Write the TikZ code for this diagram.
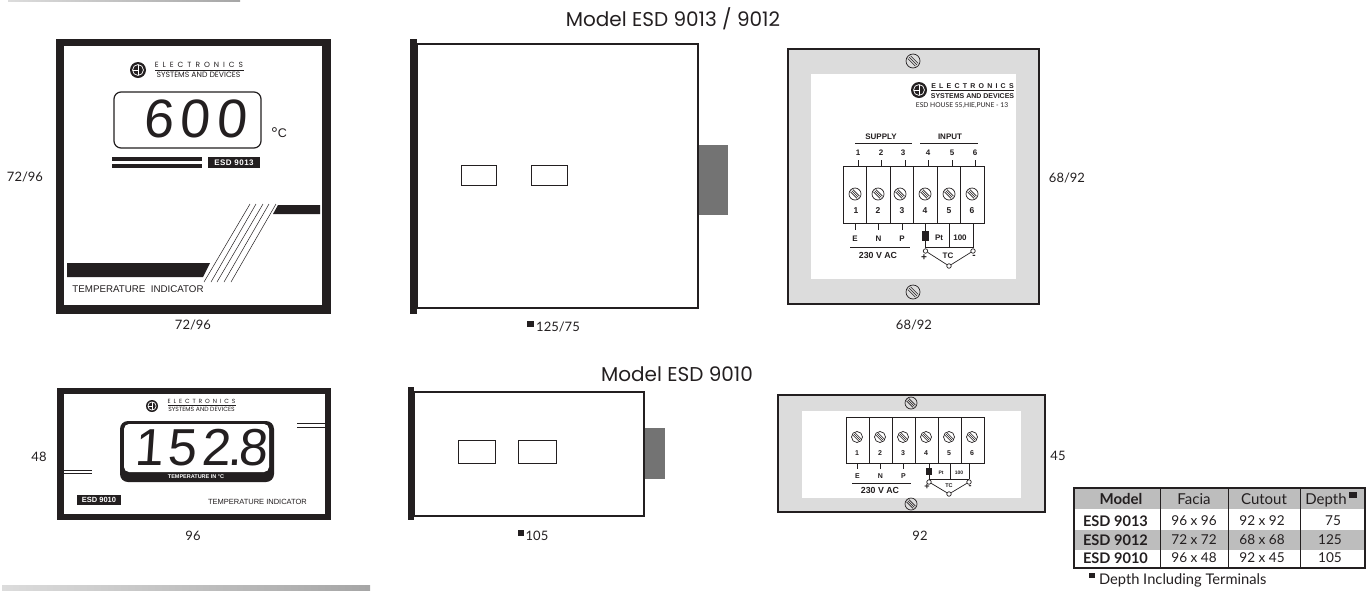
\documentclass[tikz,border=0pt]{standalone}
\usepackage{fontspec}
\usetikzlibrary{shapes, arrows, positioning, calc}
\setmainfont{Lato}
\newfontfamily\arialfont{Liberation Sans}
\newfontfamily\headfont{Poppins}
\newfontfamily\segfontA[LetterSpace=12,FakeSlant=.07]{Liberation Sans}
\newfontfamily\segfontB[LetterSpace=9,FakeSlant=.07]{Liberation Sans}
\definecolor{inkblack}{HTML}{231F20}
\definecolor{platey}{HTML}{DCDCDC}
\definecolor{plugrey}{HTML}{737373}
\definecolor{rowgrey}{HTML}{BDBDBD}
\tikzset{
	txt/.style={inner sep=0pt, outer sep=0pt, text=inkblack},
	dimtext/.style={txt, font=\fontsize{13}{13}\selectfont},
	headtext/.style={txt, font=\headfont\fontsize{20}{20}\selectfont},
	tinybold/.style={txt, font=\arialfont\bfseries\fontsize{8}{8}\selectfont},
	smallbold/.style={txt, font=\arialfont\bfseries\fontsize{7}{7}\selectfont},
	termbold/.style={txt, font=\arialfont\bfseries\fontsize{8.5}{8.5}\selectfont},
	acbold/.style={txt, font=\arialfont\bfseries\fontsize{8.8}{8.8}\selectfont},
	tablehead/.style={txt, font=\fontsize{15}{15}\selectfont},
	tablecell/.style={txt, font=\fontsize{13.6}{13.6}\selectfont},
	solidink/.style={fill=inkblack, draw=none},
	case/.style={draw=inkblack, line width=1.2pt, fill=white},
	termcell/.style={draw=inkblack, line width=1pt, fill=white, inner sep=0pt, outer sep=0pt},
	wirepin/.style={circle, draw=inkblack, fill=white, line width=.7pt, minimum size=4.5pt, inner sep=0pt},
	wire/.style={draw=inkblack, line width=.7pt},
	pics/screwdisc/.style={code={
		\draw[inkblack, line width=.7pt] (0,0) circle (#1pt);
		\draw[inkblack, line width=.6pt] (-.75*#1,-.35*#1) -- (.35*#1,.75*#1);
		\draw[inkblack, line width=.6pt] (-.35*#1,-.75*#1) -- (.75*#1,.35*#1);
		\draw[inkblack, line width=.6pt] (-.55*#1,-.55*#1) -- (.55*#1,.55*#1);
	}},
	pics/esdlogo/.style={code={
		\fill[inkblack] (0,0) circle (#1pt);
		\draw[white, line width=.7pt] (0,0) circle (.68*#1 pt);
		\draw[white, line width=.7pt] (.1*#1,-.68*#1) -- (.1*#1,.68*#1);
		\draw[white, line width=.7pt] (-.6*#1,0) -- (.1*#1,0);
	}},
}
\begin{document}
\begin{tikzpicture}[x=1pt, y=-1pt]
	\useasboundingbox (0,0) rectangle (1367,590);
	\shade[left color=platey, right color=gray!70] (8,0) rectangle (240,1.2);
	\shade[left color=platey, right color=gray!70] (2,585) rectangle (370,590);

	\node[headtext] (title13) at (673,19) {Model ESD 9013 / 9012};
	\node[headtext] (title10) at (677,374) {Model ESD 9010};

	% large front
	\fill[inkblack] (56,39) rectangle (331,314);
	\fill[white] (63.5,46) rectangle (322,305);
	\pic at (138,70) {esdlogo=8};
	\node[txt, font=\headfont\fontsize{7.5}{7.5}\selectfont\addfontfeatures{LetterSpace=53}] (elecA) at (199,65) {ELECTRONICS};
	\draw[inkblack, line width=.7pt] (155,70) -- (243.5,70);
	\node[txt, font=\headfont\fontsize{7.7}{7.7}\selectfont] (sysA) at (198.5,75) {SYSTEMS AND DEVICES};
	\draw[inkblack, line width=1.2pt, rounded corners=7pt] (114,92) rectangle (261,148);
	\node[txt, font=\segfontA\fontsize{54}{54}\selectfont] (readA) at (195,119) {600};
	\node[txt, font=\arialfont\fontsize{12.5}{12.5}\selectfont] (unitA) at (279,134) {\raisebox{-2pt}{\fontsize{17}{17}\selectfont°}C};
	\fill[inkblack] (112,157) rectangle (202,161);
	\fill[inkblack] (112,164) rectangle (202,168);
	\node[solidink, minimum width=52pt, minimum height=11pt, inner sep=0pt, text=white, font=\arialfont\bfseries\fontsize{8}{8}\selectfont\addfontfeatures{LetterSpace=6}] (modelA) at (234,162.5) {ESD 9013};
	\fill[inkblack] (278,205) -- (320,205) -- (320,214) -- (273,214) -- cycle;
	\fill[inkblack] (67,263) -- (210,263) -- (203,277) -- (67,277) -- cycle;
	\foreach \xa/\xb in {250/204, 256/211, 263/217, 269/224, 276/231}
		\draw[inkblack, line width=.5pt] (\xa,204) -- (\xb,282);
	\node[txt, font=\arialfont\fontsize{9.75}{9.75}\selectfont] (nameA) at (138,289) {TEMPERATURE\ \ INDICATOR};
	\node[dimtext] (dimA) at (25,177) {72/96};
	\node[dimtext] (dimB) at (193,325) {72/96};

	% large side
	\draw[case] (417,44) rectangle (698,308);
	\fill[inkblack] (410,39) rectangle (417,314);
	\fill[plugrey] (698.5,145) rectangle (728,215);
	\draw[inkblack, line width=.9pt] (461,165) rectangle (496,185);
	\draw[inkblack, line width=.9pt] (531,165) rectangle (567,185);
	\fill[inkblack] (527,321) rectangle (534,327);
	\node[dimtext] (dimC) at (558,327) {125/75};

	% large rear
	\draw[draw=inkblack, line width=2pt, fill=platey] (788,49) rectangle (1039,304);
	\fill[white] (811,74) rectangle (1016,279);
	\pic at (913,61) {screwdisc=7};
	\pic at (913,292) {screwdisc=7};
	\pic at (919,90) {esdlogo=8};
	\node[txt, font=\arialfont\bfseries\fontsize{7}{7}\selectfont\addfontfeatures{LetterSpace=46}] (elecB) at (972.5,86) {ELECTRONICS};
	\draw[inkblack, line width=1pt] (931,90.5) -- (1014,90.5);
	\node[smallbold] (sysB) at (972.5,96) {SYSTEMS AND DEVICES};
	\node[txt, font=\fontsize{6.7}{6.7}\selectfont] (addrB) at (962,106) {ESD HOUSE 55,HIE,PUNE - 13};
	\node[tinybold] (supplyB) at (881,137) {SUPPLY};
	\node[tinybold] (inputB) at (950,137) {INPUT};
	\draw[inkblack, line width=.7pt] (855,143) -- (912,143);
	\draw[inkblack, line width=.7pt] (920,143) -- (978,143);
	\foreach \i/\cx/\sx/\nx in {1/855/855/856, 2/878.5/878/878, 3/902/900/902, 4/925.5/925/925, 5/949/949/949, 6/972.5/972/972} {
		\node[termcell, minimum width=23.5pt, minimum height=57pt] (cellb\i) at (\cx,194.5) {};
		\pic at (\sx,194) {screwdisc=6};
		\node[termbold] (numb\i) at (\nx,211) {\i};
		\node[tinybold] (topb\i) at (\sx+3,153) {\i};
		\draw[wire] (cellb\i.north) ++(3,0) -- ++(0,-6);
	}
	\foreach \i/\t in {1/E, 2/N, 3/P} {
		\draw[wire] (cellb\i.south) -- ++(0,7);
		\node[tinybold] (lineb\i) at (cellb\i.south |- 0,239) {\t};
	}
	\draw[inkblack, line width=.7pt] (850,247) -- (910,247);
	\node[acbold] (acb) at (878,255) {230 V AC};
	\node[solidink, minimum width=7pt, minimum height=10pt, inner sep=0pt] (ptb) at (925.5,236) {};
	\node[tinybold] (ptnameb) at (939,238) {Pt};
	\node[tinybold] (hundredb) at (960,238) {100};
	\node[wirepin] (pinbp) at (925.5,251) {};
	\node[wirepin] (pinbn) at (973,251) {};
	\node[wirepin] (pinbm) at (949,266) {};
	\draw[wire] (cellb4.south) -- (ptb) -- (pinbp);
	\draw[wire] (cellb5.south) -- (949,247);
	\draw[wire] (973,223) -- (pinbn);
	\draw[wire] (925.5,247) -- (973,247);
	\draw[wire] (pinbp) -- (pinbm) -- (pinbn);
	\node[txt, font=\arialfont\bfseries\fontsize{10}{10}\selectfont] (plusb) at (924,258) {+};
	\node[txt, font=\arialfont\bfseries\fontsize{10}{10}\selectfont] (minusb) at (974,257) {-};
	\node[tinybold] (tcb) at (948,256) {TC};
	\node[dimtext] (dimD) at (1067,178) {68/92};
	\node[dimtext] (dimE) at (914,325) {68/92};

	% small front
	\fill[inkblack] (57,388) rectangle (331,520);
	\fill[white] (64,394) rectangle (325,514);
	\pic at (152,406) {esdlogo=6};
	\node[txt, font=\headfont\fontsize{6}{6}\selectfont\addfontfeatures{LetterSpace=48}] (elecC) at (201.5,401) {ELECTRONICS};
	\draw[inkblack, line width=.6pt] (168,405) -- (236,405);
	\node[txt, font=\headfont\fontsize{6.1}{6.1}\selectfont] (sysC) at (201.5,409.5) {SYSTEMS AND DEVICES};
	\fill[inkblack, rounded corners=8pt] (120,421) rectangle (274,482);
	\fill[white, rounded corners=5pt] (124,424) rectangle (269,472);
	\node[txt, font=\segfontB\fontsize{52}{52}\selectfont] (readC) at (201,448) {152\kern-.06em.\kern-.06em 8};
	\node[txt, text=white, font=\arialfont\bfseries\fontsize{5.5}{5.5}\selectfont] (capC) at (196,477) {TEMPERATURE IN °C};
	\draw[inkblack, line width=.8pt] (297,423) -- (325,423);
	\draw[inkblack, line width=.8pt] (297,427) -- (325,427);
	\draw[inkblack, line width=.8pt] (64,470) -- (92,470);
	\draw[inkblack, line width=.8pt] (64,473.5) -- (92,473.5);
	\node[solidink, minimum width=44pt, minimum height=10pt, inner sep=0pt, text=white, font=\arialfont\bfseries\fontsize{7.5}{7.5}\selectfont] (modelC) at (99,500) {ESD 9010};
	\node[txt, font=\arialfont\fontsize{7.5}{7.5}\selectfont] (nameC) at (257.5,502) {TEMPERATURE INDICATOR};
	\node[dimtext] (dimF) at (39,457) {48};
	\node[dimtext] (dimG) at (193,536) {96};

	% small side
	\draw[case] (414,392) rectangle (644,516);
	\fill[inkblack] (408,387) rectangle (414,520);
	\fill[plugrey] (644.5,428) rectangle (665,479);
	\draw[inkblack, line width=.9pt] (458,440) rectangle (495,463);
	\draw[inkblack, line width=.9pt] (518,440) rectangle (556,463);
	\fill[inkblack] (518,530) rectangle (524,536);
	\node[dimtext] (dimH) at (537,536) {105};

	% small rear
	\draw[draw=inkblack, line width=2pt, fill=platey] (778,395) rectangle (1045,512);
	\fill[white] (802,411) rectangle (1021,498);
	\pic at (911,403) {screwdisc=6};
	\pic at (911,504) {screwdisc=6};
	\foreach \i/\cx/\sx in {1/857.5/857, 2/880.5/880, 3/903.5/903, 4/926.5/926, 5/949.5/949, 6/972.5/972} {
		\node[termcell, minimum width=23pt, minimum height=46pt] (celld\i) at (\cx,440) {};
		\pic at (\sx,437) {screwdisc=5.5};
		\node[smallbold] (numd\i) at (\sx,453) {\i};
	}
	\foreach \i/\t in {1/E, 2/N, 3/P} {
		\draw[wire] (celld\i.south) -- ++(0,6);
		\node[smallbold] (lined\i) at (celld\i.south |- 0,476) {\t};
	}
	\draw[inkblack, line width=.7pt] (852,483) -- (911,483);
	\node[acbold] (acd) at (880,490) {230 V AC};
	\node[solidink, minimum width=6.5pt, minimum height=7pt, inner sep=0pt] (ptd) at (929,471.5) {};
	\node[txt, font=\arialfont\bfseries\fontsize{5}{5}\selectfont] (ptnamed) at (941,473) {Pt};
	\node[txt, font=\arialfont\bfseries\fontsize{5}{5}\selectfont] (hundredd) at (959,473) {100};
	\node[wirepin] (pindp) at (929,482) {};
	\node[wirepin] (pindn) at (969,482) {};
	\node[wirepin] (pindm) at (949,494) {};
	\draw[wire] (929,463) -- (ptd) -- (pindp);
	\draw[wire] (950,463) -- (950,479);
	\draw[wire] (969,463) -- (pindn);
	\draw[wire] (929,479) -- (969,479);
	\draw[wire] (pindp) -- (pindm) -- (pindn);
	\node[txt, font=\arialfont\bfseries\fontsize{9}{9}\selectfont] (plusd) at (927,487) {+};
	\node[txt, font=\arialfont\bfseries\fontsize{9}{9}\selectfont] (minusd) at (970,487) {-};
	\node[txt, font=\arialfont\bfseries\fontsize{5.5}{5.5}\selectfont] (tcd) at (949,486) {TC};
	\node[dimtext] (dimI) at (1058,456) {45};
	\node[dimtext] (dimJ) at (920,536) {92};

	% table
	\fill[rowgrey] (1074,489) rectangle (1365,509);
	\fill[rowgrey] (1074,530) rectangle (1365,549.5);
	\draw[inkblack, line width=1.4pt] (1074,488) rectangle (1365,568);
	\foreach \x in {1160,1228,1300}
		\draw[inkblack, line width=1pt] (\x,488) -- (\x,568);
	\node[txt, font=\bfseries\fontsize{15}{15}\selectfont] (hmodel) at (1121,499) {Model};
	\node[tablehead] (hfacia) at (1194,499) {Facia};
	\node[tablehead] (hcutout) at (1264,499) {Cutout};
	\node[tablehead] (hdepth) at (1326,500) {Depth};
	\fill[inkblack] (1349,492) rectangle (1357,498);
	\foreach \i/\y/\m/\fa/\cu/\de/\dx in {1/521/9013/96 x 96/92 x 92/75/1333, 2/540/9012/72 x 72/68 x 68/125/1330, 3/558/9010/96 x 48/92 x 45/105/1330} {
		\node[txt, font=\bfseries\fontsize{14.6}{14.6}\selectfont, anchor=west] (rowm\i) at (1083,\y) {ESD \m};
		\node[tablecell] (rowf\i) at (1194,\y) {\fa};
		\node[tablecell] (rowc\i) at (1262,\y) {\cu};
		\node[tablecell] (rowd\i) at (\dx,\y) {\de};
	}
	\fill[inkblack] (1089,573) rectangle (1095,578);
	\node[txt, font=\fontsize{14.7}{14.7}\selectfont, anchor=west] (footnote) at (1099,580) {Depth Including Terminals};
\end{tikzpicture}
\end{document}
